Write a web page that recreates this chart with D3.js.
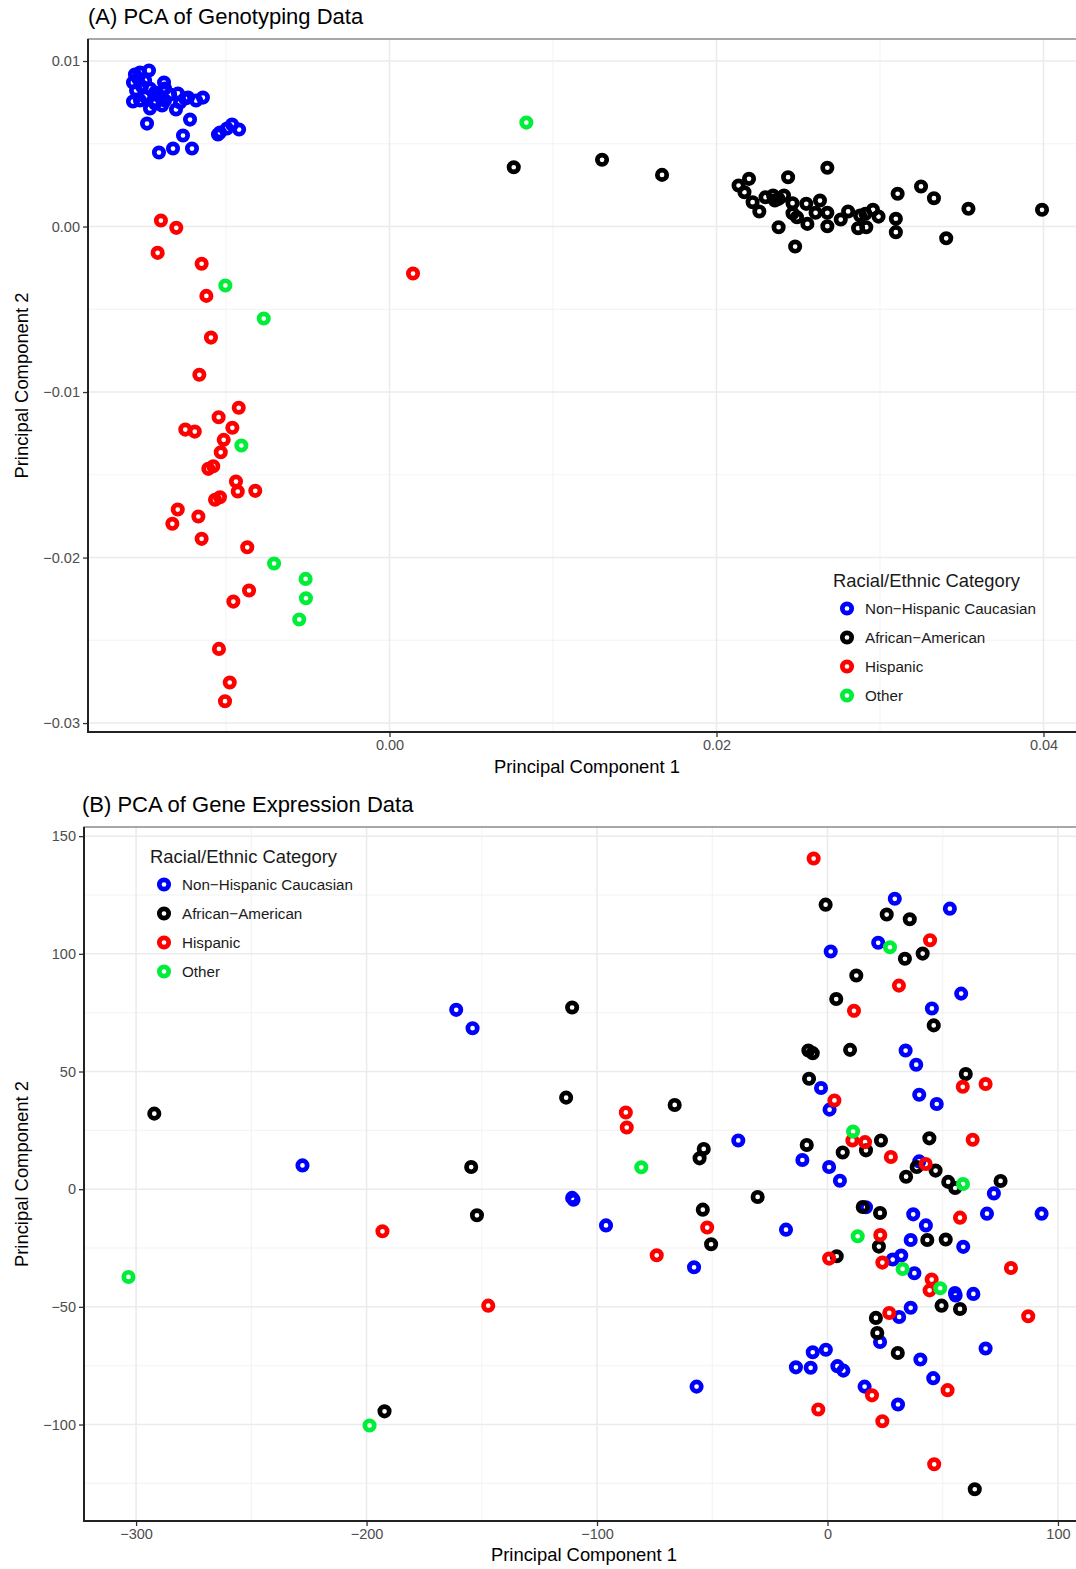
<!DOCTYPE html>
<html>
<head>
<meta charset="utf-8">
<script src="https://cdn.jsdelivr.net/npm/d3@7"></script>
<style>
  body { margin: 0; background: #fff; }
  svg text { font-family: "Liberation Sans", Arial, Helvetica, sans-serif; }
</style>
</head>
<body>
<svg id="fig" width="1076" height="1569"></svg>
<script>
// ---------- shared categories ----------
const categories = ["Non\u2212Hispanic Caucasian", "African\u2212American", "Hispanic", "Other"];
const categoryColors = ["#0000ff", "#000000", "#ff0000", "#00ee3a"];
const legendTitle = "Racial/Ethnic Category";

// ---------- (A) genotyping PCA: [PC1, PC2] ----------
const genoNHC = [
  [-0.01471,0.00943],[-0.01379,0.00870],[-0.01569,0.00755],[-0.01465,0.00713],[-0.01391,0.00731],
  [-0.01306,0.00707],[-0.01294,0.00804],[-0.01232,0.00779],[-0.01141,0.00779],[-0.01220,0.00646],
  [-0.01483,0.00622],[-0.01263,0.00550],[-0.01410,0.00447],[-0.01324,0.00471],[-0.01208,0.00471],
  [-0.01037,0.00568],[-0.00994,0.00592],[-0.00963,0.00616],[-0.00920,0.00586],[-0.01049,0.00556],
  [-0.01557,0.00918],[-0.01538,0.00894],[-0.01569,0.00870],[-0.01526,0.00930],[-0.01514,0.00846],
  [-0.01550,0.00822],[-0.01495,0.00882],[-0.01465,0.00834],[-0.01434,0.00810],[-0.01404,0.00785],
  [-0.01373,0.00761],[-0.01342,0.00798],[-0.01281,0.00749],[-0.01251,0.00773],[-0.01183,0.00761],
  [-0.01373,0.00834],[-0.01434,0.00743],[-0.01495,0.00785],[-0.01526,0.00761]
];
const genoAA = [
  [0.00760,0.00358],[0.01300,0.00403],[0.01667,0.00312],[0.02135,0.00248],[0.02199,0.00288],
  [0.02171,0.00207],[0.02221,0.00147],[0.02262,0.00091],[0.02300,0.00177],[0.02346,0.00187],
  [0.02380,0.00167],[0.02413,0.00187],[0.02438,0.00298],[0.02465,0.00141],[0.02465,0.00080],
  [0.02492,0.00056],[0.02549,0.00137],[0.02556,0.00016],[0.02606,0.00083],[0.02633,0.00157],
  [0.02678,0.00355],[0.02678,0.00083],[0.02678,0.00002],[0.02760,0.00042],[0.02805,0.00091],
  [0.02878,0.00066],[0.02911,0.00077],[0.02957,0.00101],[0.02991,0.00060],[0.02866,-0.00010],
  [0.02916,-0.00004],[0.03097,0.00047],[0.03097,-0.00034],[0.03108,0.00198],[0.03251,0.00242],
  [0.03330,0.00171],[0.03405,-0.00071],[0.03541,0.00107],[0.03991,0.00101],[0.02380,-0.00004],
  [0.02481,-0.00121],[0.02357,0.00157]
];
const genoHisp = [
  [-0.01398,0.00036],[-0.01304,-0.00008],[-0.01418,-0.00159],[-0.01149,-0.00225],[-0.01120,-0.00419],
  [-0.01092,-0.00671],[-0.01163,-0.00896],[-0.00922,-0.01095],[-0.01045,-0.01152],[-0.00961,-0.01216],
  [-0.01249,-0.01227],[-0.01191,-0.01239],[-0.01014,-0.01289],[-0.01032,-0.01364],[-0.01078,-0.01448],
  [-0.01108,-0.01464],[-0.00939,-0.01541],[-0.00928,-0.01601],[-0.00821,-0.01597],[-0.01037,-0.01636],
  [-0.01067,-0.01651],[-0.01295,-0.01710],[-0.01169,-0.01752],[-0.01328,-0.01796],[-0.01149,-0.01887],
  [-0.00870,-0.01938],[-0.00859,-0.02199],[-0.00955,-0.02266],[-0.01043,-0.02552],[-0.00977,-0.02755],
  [-0.01006,-0.02868],[0.00144,-0.00284]
];
const genoOther = [
  [-0.01004,-0.00356],[-0.00769,-0.00556],[-0.00906,-0.01323],[-0.00706,-0.02036],
  [-0.00513,-0.02129],[-0.00511,-0.02246],[-0.00552,-0.02374],[0.00837,0.00628]
];
const genoXTicks = [0, 0.02, 0.04];
const genoXTickLabels = ["0.00", "0.02", "0.04"];
const genoXMinor = [-0.01, 0.01, 0.03];
const genoYTicks = [0.01, 0, -0.01, -0.02, -0.03];
const genoYTickLabels = ["0.01", "0.00", "\u22120.01", "\u22120.02", "\u22120.03"];
const genoYMinor = [0.005, -0.005, -0.015, -0.025];

// ---------- (B) gene expression PCA: [PC1, PC2] ----------
const exprNHC = [
  [-227.8,10.1],[-161.1,76.2],[-154.0,68.4],[-38.7,20.7],[-110.8,-3.7],[-110.2,-4.5],[-96.1,-15.4],
  [-57.9,-33.2],[-56.8,-83.9],[29.2,123.4],[53.1,119.2],[22.0,104.7],[1.4,101.0],[58.0,83.1],
  [45.3,76.8],[33.9,58.9],[38.5,52.9],[-2.8,43.0],[0.9,33.8],[39.8,40.1],[47.4,36.2],[-10.9,12.4],
  [0.7,9.4],[5.4,3.6],[39.8,11.8],[72.2,-1.8],[16.7,-7.7],[37.2,-10.7],[42.7,-15.4],[69.2,-10.4],
  [92.9,-10.4],[-18.0,-17.2],[36.1,-21.6],[58.9,-24.5],[28.3,-29.9],[32.0,-28.2],[37.7,-35.7],
  [55.3,-44.1],[55.6,-45.2],[63.3,-44.5],[36.1,-50.4],[31.1,-54.3],[22.8,-64.9],[68.6,-67.7],
  [-0.7,-68.2],[-6.4,-69.3],[-13.7,-75.7],[-7.3,-75.9],[4.3,-75.2],[6.9,-77.1],[40.3,-72.4],
  [45.9,-80.3],[16.1,-83.9],[30.6,-91.5]
];
const exprAA = [
  [-292.1,32.1],[-110.8,77.2],[-113.4,38.9],[-66.3,35.8],[-154.6,9.4],[-53.7,17.1],[-55.5,13.1],
  [-152.1,-11.1],[-54.1,-8.7],[-50.5,-23.4],[-192.2,-94.4],[-30.3,-3.3],[-0.8,120.9],[25.7,116.7],
  [35.7,114.7],[41.3,100.1],[33.6,97.9],[12.5,90.8],[3.8,80.8],[46.1,69.6],[-8.3,58.9],[-6.4,57.8],
  [9.8,59.2],[-8.0,46.9],[60.0,48.9],[23.2,20.7],[44.2,21.6],[-9.0,18.8],[6.6,15.6],[16.7,16.5],
  [38.7,9.4],[46.9,7.9],[34.1,5.3],[52.4,3.1],[55.4,0.5],[75.1,3.5],[15.3,-7.6],[22.8,-10.1],
  [22.3,-24.4],[43.3,-21.6],[51.3,-21.4],[4.0,-28.5],[49.5,-49.5],[57.5,-50.9],[21.0,-54.7],
  [21.6,-61.1],[30.5,-69.6],[63.9,-127.5]
];
const exprHisp = [
  [-87.5,32.6],[-87.1,26.2],[-52.2,-16.3],[-74.1,-28.1],[-193.1,-17.9],[-147.2,-49.5],[-6.0,140.5],
  [44.5,105.8],[31.0,86.5],[11.5,75.8],[68.6,44.7],[58.7,43.5],[3.0,37.7],[10.8,20.7],[16.3,20.0],
  [63.0,21.0],[27.5,13.7],[42.6,10.7],[57.5,-12.1],[22.9,-19.5],[0.7,-29.5],[23.8,-31.2],[79.6,-33.5],
  [45.2,-38.4],[44.3,-43.0],[26.8,-52.6],[87.1,-54.0],[52.1,-85.4],[19.3,-87.6],[-4.0,-93.6],
  [23.8,-98.6],[46.3,-116.9]
];
const exprOther = [
  [-80.8,9.3],[-303.3,-37.3],[-198.7,-100.4],[27.1,102.8],[11.1,24.5],[58.8,2.2],[13.1,-20.0],
  [32.6,-33.9],[48.9,-42.1]
];
const exprXTicks = [-300, -200, -100, 0, 100];
const exprXTickLabels = ["\u2212300", "\u2212200", "\u2212100", "0", "100"];
const exprXMinor = [-250, -150, -50, 50];
const exprYTicks = [150, 100, 50, 0, -50, -100];
const exprYTickLabels = ["150", "100", "50", "0", "\u221250", "\u2212100"];
const exprYMinor = [125, 75, 25, -25, -75, -125];

// ---------- drawing ----------
const svg = d3.select("#fig");
const MARK_R = 4.7, MARK_W = 4.7;

function drawPanel(p) {
  const g = svg.append("g");
  const x = d3.scaleLinear().domain(p.xDomain).range([p.left, p.right]);
  const y = d3.scaleLinear().domain(p.yDomain).range([p.bottom, p.top]);

  // background grid
  const grid = g.append("g");
  grid.selectAll("line.vmin").data(p.xMinor).join("line")
    .attr("x1", d => x(d)).attr("x2", d => x(d)).attr("y1", p.top).attr("y2", p.bottom)
    .attr("stroke", "#f0f0f0").attr("stroke-width", 0.8);
  grid.selectAll("line.hmin").data(p.yMinor).join("line")
    .attr("y1", d => y(d)).attr("y2", d => y(d)).attr("x1", p.left).attr("x2", p.right)
    .attr("stroke", "#f0f0f0").attr("stroke-width", 0.8);
  grid.selectAll("line.vmaj").data(p.xTicks).join("line")
    .attr("x1", d => x(d)).attr("x2", d => x(d)).attr("y1", p.top).attr("y2", p.bottom)
    .attr("stroke", "#ebebeb").attr("stroke-width", 1.5);
  grid.selectAll("line.hmaj").data(p.yTicks).join("line")
    .attr("y1", d => y(d)).attr("y2", d => y(d)).attr("x1", p.left).attr("x2", p.right)
    .attr("stroke", "#ebebeb").attr("stroke-width", 1.5);

  // points, one layer per category
  p.series.forEach((pts, i) => {
    g.append("g").selectAll("circle").data(pts).join("circle")
      .attr("cx", d => x(d[0])).attr("cy", d => y(d[1])).attr("r", MARK_R)
      .attr("fill", "none").attr("stroke", categoryColors[i]).attr("stroke-width", MARK_W);
  });

  // panel border
  g.append("rect").attr("x", p.left).attr("y", p.top)
    .attr("width", p.right - p.left).attr("height", p.bottom - p.top)
    .attr("fill", "none").attr("stroke", "#6e6e6e").attr("stroke-width", 1.2);
  g.append("line").attr("x1", p.left).attr("x2", p.left).attr("y1", p.top).attr("y2", p.bottom + 1)
    .attr("stroke", "#222").attr("stroke-width", 2);
  g.append("line").attr("x1", p.left - 1).attr("x2", p.right).attr("y1", p.bottom).attr("y2", p.bottom)
    .attr("stroke", "#222").attr("stroke-width", 2);

  // axes
  const xAxis = d3.axisBottom(x).tickValues(p.xTicks).tickSize(4).tickPadding(3)
    .tickFormat((d, i) => p.xTickLabels[i]);
  const yAxis = d3.axisLeft(y).tickValues(p.yTicks).tickSize(4).tickPadding(3)
    .tickFormat((d, i) => p.yTickLabels[i]);
  [g.append("g").attr("transform", `translate(0,${p.bottom + 1})`).call(xAxis),
   g.append("g").attr("transform", `translate(${p.left - 1},0)`).call(yAxis)].forEach(ax => {
    ax.select(".domain").remove();
    ax.selectAll(".tick line").attr("stroke", "#333").attr("stroke-width", 1.3);
    ax.selectAll(".tick text").attr("fill", "#4d4d4d").style("font-size", "14.5px")
      .style("font-family", '"Liberation Sans", Arial, sans-serif');
  });

  // titles
  g.append("text").attr("x", p.titleX).attr("y", p.titleY).attr("fill", "#000")
    .style("font-size", "22px").text(p.title);
  g.append("text").attr("x", (p.left + p.right) / 2).attr("y", p.xTitleY)
    .attr("text-anchor", "middle").style("font-size", "18.4px").text("Principal Component 1");
  g.append("text").attr("transform", `translate(28,${(p.top + p.bottom) / 2}) rotate(-90)`)
    .attr("text-anchor", "middle").style("font-size", "18.4px").text("Principal Component 2");

  // legend
  const lg = g.append("g").attr("transform", `translate(${p.legendX},${p.legendY})`);
  lg.append("text").attr("x", 0).attr("y", 6.5).style("font-size", "18.4px")
    .attr("fill", "#1a1a1a").text(legendTitle);
  categories.forEach((c, i) => {
    const cy = 28.5 + i * 29;
    lg.append("circle").attr("cx", 14).attr("cy", cy).attr("r", MARK_R)
      .attr("fill", "none").attr("stroke", categoryColors[i]).attr("stroke-width", MARK_W);
    lg.append("text").attr("x", 32).attr("y", cy + 5).style("font-size", "15.2px")
      .attr("fill", "#1a1a1a").text(c);
  });
}

drawPanel({
  title: "(A) PCA of Genotyping Data", titleX: 88, titleY: 24,
  left: 88, right: 1086, top: 39, bottom: 732,
  xDomain: [-0.01844, 0.04260], yDomain: [-0.03054, 0.01133],
  xTicks: genoXTicks, xTickLabels: genoXTickLabels, xMinor: genoXMinor,
  yTicks: genoYTicks, yTickLabels: genoYTickLabels, yMinor: genoYMinor,
  series: [genoNHC, genoAA, genoHisp, genoOther],
  xTitleY: 773, legendX: 833, legendY: 580
});

drawPanel({
  title: "(B) PCA of Gene Expression Data", titleX: 82, titleY: 812,
  left: 84, right: 1084, top: 827, bottom: 1521,
  xDomain: [-322.6, 111.3], yDomain: [-141.0, 153.9],
  xTicks: exprXTicks, xTickLabels: exprXTickLabels, xMinor: exprXMinor,
  yTicks: exprYTicks, yTickLabels: exprYTickLabels, yMinor: exprYMinor,
  series: [exprNHC, exprAA, exprHisp, exprOther],
  xTitleY: 1561, legendX: 150, legendY: 856
});
</script>
</body>
</html>
